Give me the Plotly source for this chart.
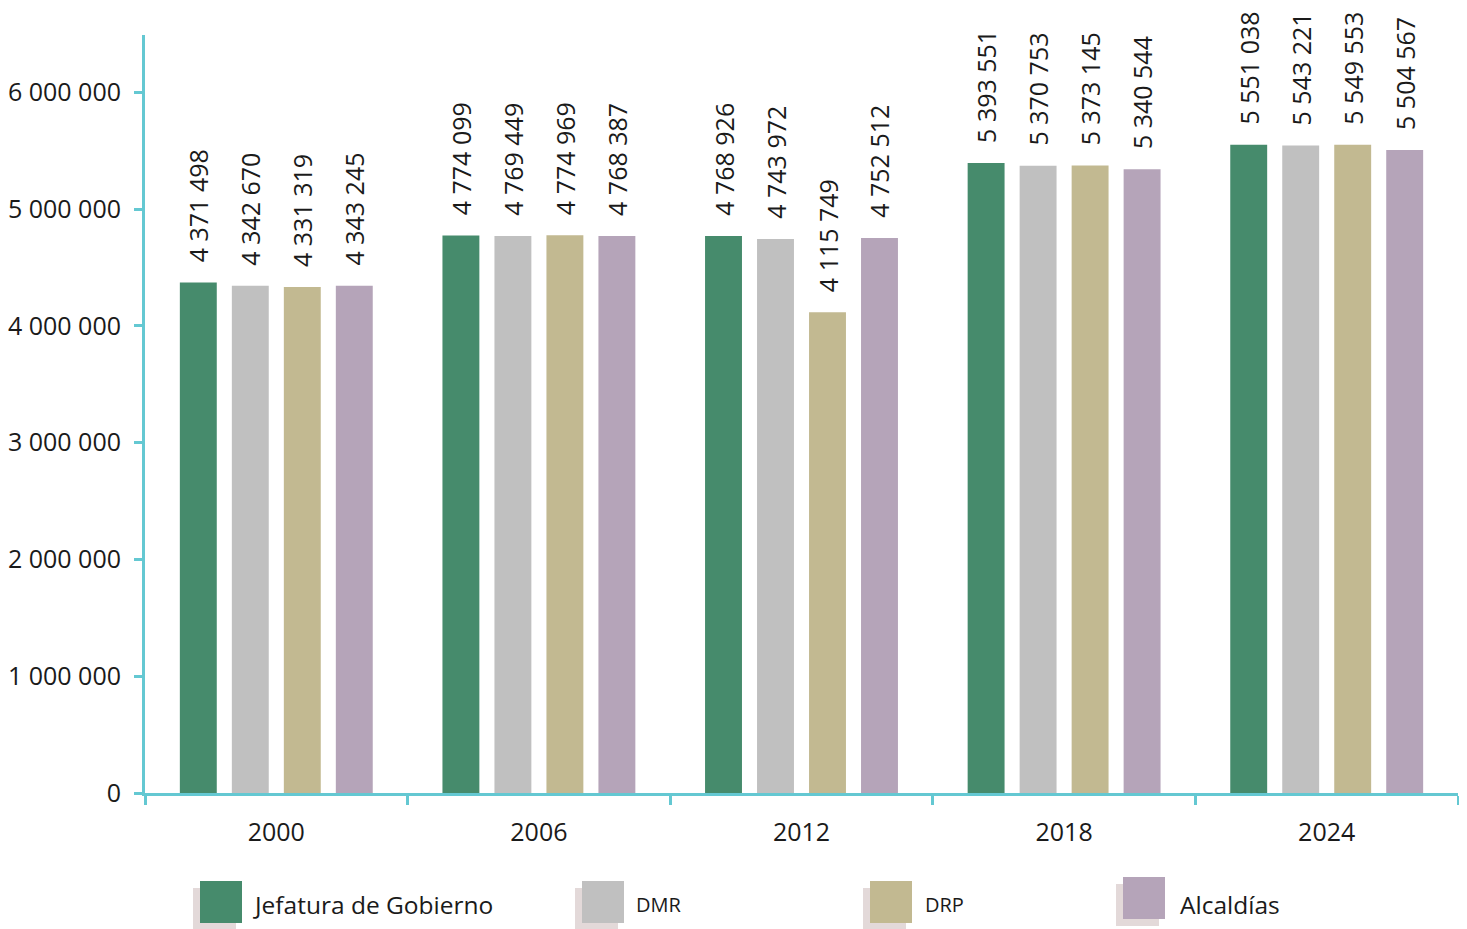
import plotly.graph_objects as go

years = ["2000", "2006", "2012", "2018", "2024"]
series_names = ["Jefatura de Gobierno", "DMR", "DRP", "Alcaldías"]
jefatura = [4371498, 4774099, 4768926, 5393551, 5551038]
dmr = [4342670, 4769449, 4743972, 5370753, 5543221]
drp = [4331319, 4774969, 4115749, 5373145, 5549553]
alcaldias = [4343245, 4768387, 4752512, 5340544, 5504567]
y_ticks = [0, 1000000, 2000000, 3000000, 4000000, 5000000, 6000000]

series_values = [jefatura, dmr, drp, alcaldias]
colors = ["#468B6C", "#C0C0C0", "#C2B991", "#B5A4B9"]
legend_sizes = [24.5, 20, 20, 24.5]

OFF = 8  # page body margin
W, H = 1467 - OFF, 929 - OFF
L, R, T, B = 145 - OFF, 9, 35 - OFF, 136
pw, ph = W - L - R, H - T - B

def fmt(v):
    return "\u00a0\u00a0\u2009" + f"{v:,}".replace(",", " ")

fig = go.Figure()
for name, vals, col in zip(series_names, series_values, colors):
    fig.add_trace(go.Bar(
        x=years, y=vals, name=name,
        marker=dict(color=col, line=dict(width=0)),
        text=[fmt(v) for v in vals],
        textposition="outside", textangle=-90,
        textfont=dict(family="Open Sans", size=25, color="#1a1a1a"),
        constraintext="none", cliponaxis=False,
        showlegend=False,
    ))

axis_col = "#64C8D2"
fig.update_layout(
    width=W, height=H,
    margin=dict(l=L, r=R, t=T, b=B, pad=0, autoexpand=False),
    paper_bgcolor="white", plot_bgcolor="white",
    barmode="group", bargap=0.208, bargroupgap=0.29,
    separators=". ",
    font=dict(family="Open Sans", size=25, color="#1a1a1a"),
    xaxis=dict(
        type="category", showline=True, linecolor=axis_col, linewidth=3,
        ticks="outside", tickson="boundaries", ticklen=9, tickwidth=3, tickcolor=axis_col,
        showgrid=False, tickfont=dict(size=25), ticklabelstandoff=15, automargin=False,
    ),
    yaxis=dict(
        range=[0, 6490000], showline=True, linecolor=axis_col, linewidth=3,
        ticks="outside", ticklen=8, tickwidth=3, tickcolor=axis_col,
        tickvals=y_ticks, tickformat=",d", showgrid=False, zeroline=False,
        tickfont=dict(size=25), ticklabelstandoff=8, automargin=False,
    ),
)

def px_x(p):
    return (p - OFF - L) / pw

def px_y(p):
    return (H - B - (p - OFF)) / ph

# legend (squares with soft shadow + labels)
legend_sq = [(200, 881), (582, 881), (870, 881), (1123, 877)]
legend_tx = [251, 634, 923, 1178]
shapes = []
annotations = []
for (sx, sy), tx, name, col, fs in zip(legend_sq, legend_tx, series_names, colors, legend_sizes):
    shapes.append(dict(type="rect", xref="paper", yref="paper",
                       x0=px_x(sx - 7), x1=px_x(sx + 36), y0=px_y(sy + 7), y1=px_y(sy + 49),
                       fillcolor="#E3D9D9", line=dict(width=0), layer="above"))
    shapes.append(dict(type="rect", xref="paper", yref="paper",
                       x0=px_x(sx), x1=px_x(sx + 42), y0=px_y(sy), y1=px_y(sy + 42),
                       fillcolor=col, line=dict(width=0), layer="above"))
    annotations.append(dict(xref="paper", yref="paper", x=px_x(tx), y=px_y(904),
                            text=name, showarrow=False, xanchor="left", yanchor="middle",
                            font=dict(family="Open Sans", size=fs, color="#1a1a1a")))
fig.update_layout(shapes=shapes, annotations=annotations)

fig.write_html("out.html")
